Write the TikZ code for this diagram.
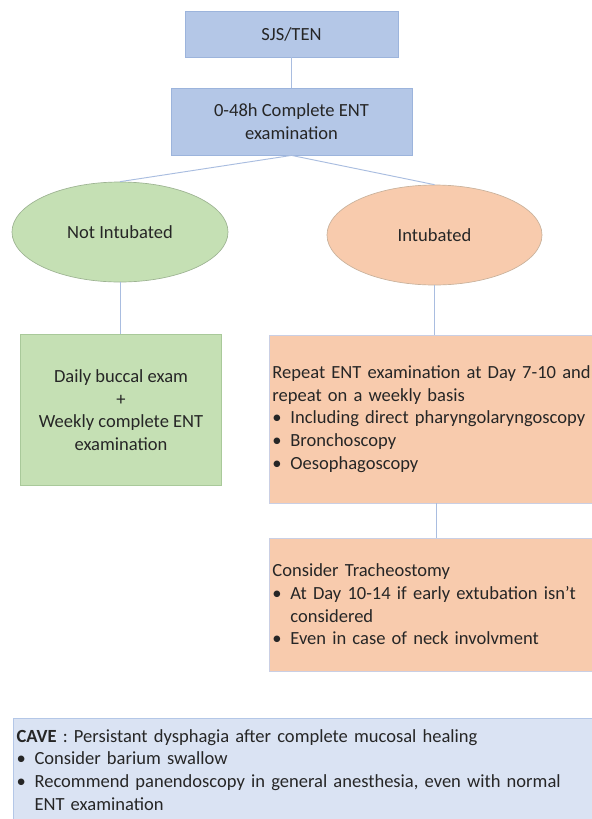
\documentclass[tikz,border=0pt]{standalone}
\usepackage{fontspec}
\setmainfont{Carlito}
\usetikzlibrary{shapes.geometric}
\definecolor{bluefill}{HTML}{B4C7E7}
\definecolor{blueedge}{HTML}{9CB4DC}
\definecolor{greenfill}{HTML}{C5E0B4}
\definecolor{greenedge}{HTML}{A9C99A}
\definecolor{orangefill}{HTML}{F8CBAD}
\definecolor{orangeedge}{HTML}{CACFE4}
\definecolor{palefill}{HTML}{DAE3F3}
\definecolor{paleedge}{HTML}{B4C7E7}
\definecolor{linkcol}{HTML}{A9BDE0}
\newcommand{\bulitem}[1]{\par\hangindent=13.5pt\hangafter=1\noindent\makebox[13.5pt][l]{•}#1}
\newcommand{\brk}{\hfil\break}
\begin{document}
\begin{tikzpicture}[x=0.75pt,y=-0.75pt,
  every node/.style={font=\fontsize{13.9}{17}\selectfont, text=black!85},
  bluebox/.style={draw=blueedge, line width=0.6pt, fill=bluefill, align=center, inner sep=0pt},
  greenbox/.style={draw=greenedge, line width=0.6pt, fill=greenfill, align=center, inner sep=0pt},
  orangebox/.style={draw=orangeedge, line width=0.6pt, fill=orangefill, align=left, inner xsep=2.25pt, inner ysep=0pt, minimum width=300pt, text width=295.5pt},
  greenell/.style={ellipse, draw=greenedge!70!gray, line width=0.5pt, fill=greenfill, inner sep=0pt},
  orangeell/.style={ellipse, draw=orange!30!gray!60, line width=0.5pt, fill=orangefill, inner sep=0pt},
  palebox/.style={draw=paleedge, line width=0.8pt, fill=palefill, align=left, inner xsep=2.25pt, inner ysep=8pt, text width=470pt},
  link/.style={draw=linkcol, line width=0.7pt}]
\clip (0,0) rectangle (592,819);
\fill[white] (0,0) rectangle (592,819);

\node[bluebox, minimum width=159.75pt, minimum height=34.5pt] (sjs) at (291.5,34) {SJS/TEN};
\node[bluebox, minimum width=180.75pt, minimum height=50.25pt] (ent) at (291.5,121.5) {0-48h Complete ENT\\examination};

\node[greenell, minimum width=162pt, minimum height=75pt] (noti) at (120,232) {Not Intubated};
\node[orangeell, minimum width=161.25pt, minimum height=75pt] (inti) at (434.5,235) {Intubated};

\node[greenbox, minimum width=150.75pt, minimum height=113.25pt] (daily) at (121,410) {Daily buccal exam\\+\\Weekly complete ENT\\examination};

\node[orangebox, minimum height=126pt, anchor=west] (rep) at (269,419) {%
Repeat ENT examination at Day 7-10 and\brk repeat on a weekly basis
\bulitem{Including direct pharyngolaryngoscopy}
\bulitem{Bronchoscopy}
\bulitem{Oesophagoscopy}};

\node[orangebox, minimum height=99.75pt, anchor=west] (trach) at (269,604.5) {%
Consider Tracheostomy
\bulitem{At Day 10-14 if early extubation isn’t\brk considered}
\bulitem{Even in case of neck involvment}};

\node[palebox, anchor=north west] (cave) at (13,718) {%
\textbf{CAVE} : Persistant dysphagia after complete mucosal healing
\bulitem{Consider barium swallow}
\bulitem{Recommend panendoscopy in general anesthesia, even with normal\brk ENT examination}\par\vspace{14pt}};

\draw[link] (sjs.south) -- (ent.north);
\draw[link] (ent.south) -- (noti.north);
\draw[link] (ent.south) -- (inti.north);
\draw[link] (noti.south) -- (noti.south |- daily.north);
\draw[link] (inti.south) -- (inti.south |- rep.north);
\draw[link] ([xshift=1.5]inti.south |- rep.south) -- ([xshift=1.5]inti.south |- trach.north);
\end{tikzpicture}
\end{document}
